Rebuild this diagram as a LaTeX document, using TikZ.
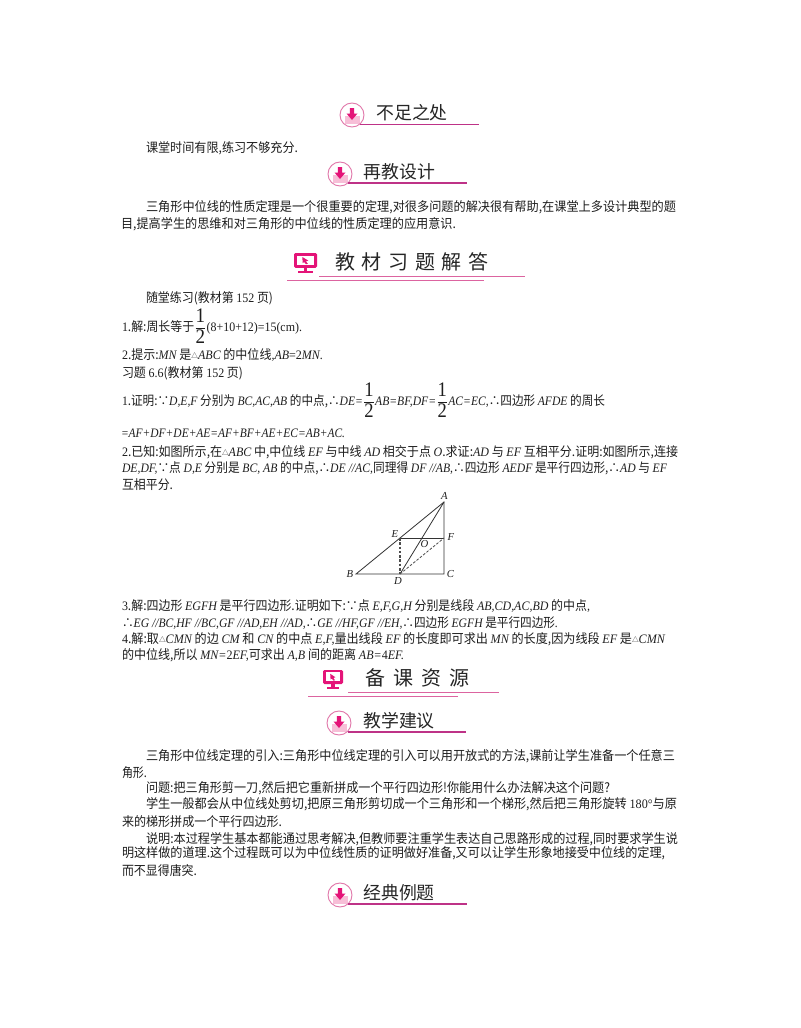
\documentclass[tikz,border=0pt]{standalone}
\usepackage{fontspec}
\setmainfont{Noto Sans CJK SC}
\newfontfamily\latf{Liberation Serif}
\usetikzlibrary{calc}
\newcommand\I[1]{{\latf\itshape #1}}
\newcommand\T[1]{{\latf #1}}
\newcommand\tri{\raisebox{0.08em}{\scalebox{0.55}{△}}}
\newcommand\frc{\(\displaystyle{\hbox{\fontsize{15.5}{16}\selectfont\latf 1}\over\hbox{\fontsize{15.5}{16}\selectfont\latf 2}}\)}
\newcount\lnc
\definecolor{bodyc}{RGB}{30,30,30}
\definecolor{linec}{RGB}{190,50,135}
\definecolor{linep}{RGB}{220,100,160}
\definecolor{deepp}{RGB}{228,20,120}
\definecolor{lightp}{RGB}{247,190,215}
\definecolor{ringp}{RGB}{225,120,170}
\tikzset{
  x=0.75pt,y=-0.75pt,
  lin/.style={anchor=base west,inner sep=0pt,outer sep=0pt,text=bodyc,font=\fontsize{9.7}{12}\selectfont},
  head/.style={anchor=west,inner sep=0pt,text=black!85,font=\fontsize{13.4}{16}\selectfont},
  headw/.style={anchor=west,inner sep=0pt,text=black!85,font=\fontsize{15}{18}\selectfont},
  rulea/.style={draw=linec,line width=0.8pt},
  ruleb/.style={draw=linep,line width=0.6pt},
  ptl/.style={inner sep=0pt,text=bodyc,font=\fontsize{8}{9}\selectfont\latf\itshape},
  geo/.style={draw=black!80,line width=0.6pt},
  geod/.style={draw=black!70,line width=0.6pt,dash pattern=on 2pt off 1.2pt},
}
% line of text set to the reference's extent: x0, x1, centre y, text
\newcommand\jl[4]{\global\advance\lnc by 1
  \pgfmathsetmacro\lnw{(#2-#1)*0.75}
  \node[lin] (t\the\lnc) at (#1,#3+4.2) {\resizebox{\lnw pt}{\height}{#4}};}
% section header with round arrow badge: cx, cy, text x, text cy, rule y, rule x0, rule x1, text
\newcommand\badge[8]{\global\advance\lnc by 1
  \begin{scope}[shift={(#1,#2)}]
    \fill[lightp] (-7.5,0.5) rectangle (7.5,9);
    \draw[ringp,line width=0.7pt] (0,0) circle (12);
    \fill[deepp] (-2.2,-7) -- (2.2,-7) -- (2.2,-1.5) -- (5.5,-1.5) -- (0,5) -- (-5.5,-1.5) -- (-2.2,-1.5) -- cycle;
  \end{scope}
  \coordinate (ra\the\lnc) at (#6,#5);
  \coordinate (rb\the\lnc) at (#7,#5);
  \draw[rulea] (ra\the\lnc) -- (rb\the\lnc);
  \node[head] (h\the\lnc) at (#3,#4) {#8};}
% monitor icon: left, top, width, height
\newcommand\monitor[4]{
  \begin{scope}[shift={(#1,#2)},x=#3*0.75pt,y=-#4*0.75pt]
    \fill[deepp,rounded corners=1pt] (0,0) rectangle (1,0.74);
    \fill[white] (0.13,0.13) rectangle (0.87,0.6);
    \fill[deepp] (0.36,0.2) -- (0.62,0.38) -- (0.52,0.42) -- (0.6,0.54) -- (0.52,0.56) -- (0.44,0.45) -- (0.38,0.5) -- cycle;
    \fill[deepp] (0.42,0.74) rectangle (0.58,0.9);
    \fill[deepp] (0.18,0.9) rectangle (0.82,1);
  \end{scope}}
\begin{document}
\begin{tikzpicture}
\useasboundingbox (0,0) rectangle (800,1028);
\fill[white] (0,0) rectangle (800,1028);

\badge{352}{115}{376}{113}{124.5}{360}{479}{不足之处}
\jl{146}{298}{148}{课堂时间有限,练习不够充分.}
\badge{340}{174}{363.5}{172}{183}{348}{467}{再教设计}
\jl{146}{676}{207}{三角形中位线的性质定理是一个很重要的定理,对很多问题的解决很有帮助,在课堂上多设计典型的题}
\jl{121}{456}{224}{目,提高学生的思维和对三角形的中位线的性质定理的应用意识.}

\monitor{294}{253}{23}{20}
\coordinate (r1a) at (319,276); \coordinate (r1b) at (525,276);
\coordinate (r2a) at (287,280); \coordinate (r2b) at (484,280);
\draw[ruleb] (r1a) -- (r1b);
\draw[ruleb] (r2a) -- (r2b);
\node[headw] (h3) at (335,262) {教\hspace{5pt}材\hspace{5pt}习\hspace{5pt}题\hspace{5pt}解\hspace{5pt}答};

\jl{146}{273}{298}{随堂练习(教材第 \T{152} 页)}
\jl{122}{302}{327}{\T{1}.解:周长等于\frc\T{(8+10+12)=15(cm).}}
\jl{122}{323}{355}{\T{2}.提示:\I{MN} 是\tri\I{ABC} 的中位线\I{,AB}\T{=2}\I{MN.}}
\jl{122}{243}{373}{习题 \T{6.6}(教材第 \T{152} 页)}
\jl{122}{605}{401}{\T{1}.证明:∵\I{D,E,F} 分别为 \I{BC,AC,AB} 的中点,∴\I{DE=}\frc\I{AB=BF,DF=}\frc\I{AC=EC,}∴四边形 \I{AFDE} 的周长}
\jl{121}{345}{433}{\I{=AF+DF+DE+AE=AF+BF+AE+EC=AB+AC.}}
\jl{122}{678}{452}{\T{2}.已知:如图所示,在\tri\I{ABC} 中,中位线 \I{EF} 与中线 \I{AD} 相交于点 \I{O}.求证:\I{AD} 与 \I{EF} 互相平分.证明:如图所示,连接}
\jl{122}{667}{468}{\I{DE,DF,}∵点 \I{D,E} 分别是 \I{BC, AB} 的中点,∴\I{DE //AC,}同理得 \I{DF //AB,}∴四边形 \I{AEDF} 是平行四边形,∴\I{AD} 与 \I{EF}}
\jl{122}{173}{485}{互相平分.}

% figure
\coordinate (A) at (444,502);
\coordinate (B) at (356,574);
\coordinate (C) at (444,574);
\coordinate (D) at (400,574);
\coordinate (E) at (400,538);
\coordinate (F) at (444,538);
\draw[geo] (A) -- (B) -- (C) -- cycle;
\draw[geo] (A) -- (D);
\draw[geo] (E) -- (F);
\draw[geod,line width=0.9pt] (E) -- (D);
\draw[geod] (D) -- (F);
\node[ptl] (lA) at (444.5,495.5) {A};
\node[ptl] (lB) at (350,574) {B};
\node[ptl] (lC) at (450.5,574) {C};
\node[ptl] (lD) at (398,581) {D};
\node[ptl] (lE) at (395,534.5) {E};
\node[ptl] (lF) at (451,537) {F};
\node[ptl] (lO) at (424.5,544) {O};

\jl{122}{590}{606}{\T{3}.解:四边形 \I{EGFH} 是平行四边形.证明如下:∵点 \I{E,F,G,H} 分别是线段 \I{AB,CD,AC,BD} 的中点\I{,}}
\jl{122}{558}{623}{∴\I{EG //BC,HF //BC,GF //AD,EH //AD,}∴\I{GE //HF,GF //EH,}∴四边形 \I{EGFH} 是平行四边形\I{.}}
\jl{122}{665}{639}{\T{4}.解:取\tri\I{CMN} 的边 \I{CM} 和 \I{CN} 的中点 \I{E,F,}量出线段 \I{EF} 的长度即可求出 \I{MN} 的长度,因为线段 \I{EF} 是\tri\I{CMN}}
\jl{122}{404}{655}{的中位线,所以 \I{MN=}\T{2}\I{EF,}可求出 \I{A,B} 间的距离 \I{AB=}\T{4}\I{EF.}}

\monitor{323}{670}{20}{19}
\coordinate (r3a) at (348,692); \coordinate (r3b) at (499,692);
\coordinate (r4a) at (308,696); \coordinate (r4b) at (458,696);
\draw[ruleb] (r3a) -- (r3b);
\draw[ruleb] (r4a) -- (r4b);
\node[headw] (h4) at (365,678) {备\hspace{6pt}课\hspace{6pt}资\hspace{6pt}源};

\badge{339}{723}{363}{721}{732}{348}{466}{教学建议}
\jl{146}{675}{756}{三角形中位线定理的引入:三角形中位线定理的引入可以用开放式的方法,课前让学生准备一个任意三}
\jl{122}{147}{773}{角形.}
\jl{146}{610}{788}{问题:把三角形剪一刀,然后把它重新拼成一个平行四边形!你能用什么办法解决这个问题?}
\jl{146}{677}{804}{学生一般都会从中位线处剪切,把原三角形剪切成一个三角形和一个梯形,然后把三角形旋转 \T{180°}与原}
\jl{122}{282}{822}{来的梯形拼成一个平行四边形.}
\jl{146}{678}{839}{说明:本过程学生基本都能通过思考解决,但教师要注重学生表达自己思路形成的过程,同时要求学生说}
\jl{122}{665}{853}{明这样做的道理.这个过程既可以为中位线性质的证明做好准备,又可以让学生形象地接受中位线的定理,}
\jl{122}{197}{871}{而不显得唐突.}
\badge{340}{895}{363}{893}{904}{348}{467}{经典例题}
\end{tikzpicture}
\end{document}
